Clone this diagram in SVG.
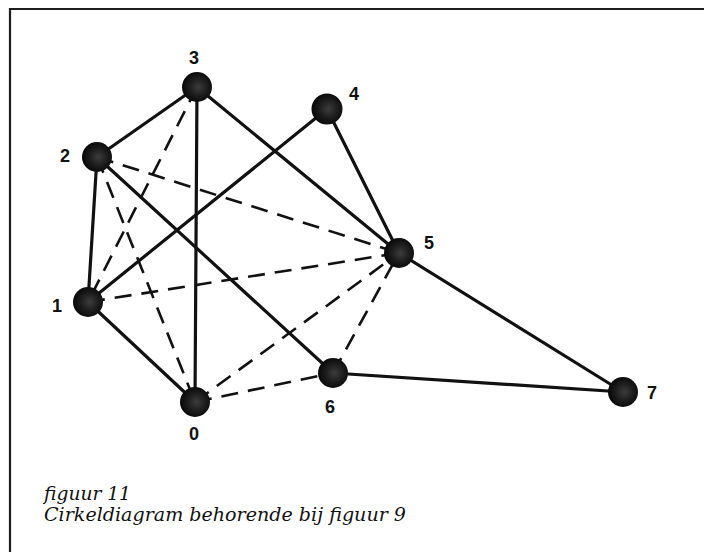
<svg xmlns="http://www.w3.org/2000/svg" width="704" height="552" viewBox="0 0 704 552">
<style>
.frame{stroke:#1e1e1e;stroke-width:2.2;fill:none}
.solid{stroke:#111;stroke-width:3.2;fill:none;stroke-linecap:round}
.dash{stroke:#111;stroke-width:2.6;fill:none;stroke-dasharray:17 10}
.node{fill:url(#g)}
.lbl{font-family:"Liberation Sans",Arial,sans-serif;font-weight:bold;font-size:18px;fill:#111;text-anchor:middle}
.cap{font-family:"DejaVu Serif","Liberation Serif",serif;font-style:italic;font-size:18px;fill:#111}
</style>
<defs>
<radialGradient id="g" cx="0.55" cy="0.5" r="0.55">
<stop offset="0" stop-color="#3c3c3c"/>
<stop offset="0.55" stop-color="#1c1c1c"/>
<stop offset="1" stop-color="#070707"/>
</radialGradient>
</defs>
<rect width="704" height="552" fill="#fff"/>
<path class="frame" d="M10,552 V9 H704"/>
<g id="connectors">
<line class="solid" x1="197" y1="87" x2="97" y2="157"/>
<line class="solid" x1="197" y1="87" x2="195" y2="402"/>
<line class="solid" x1="197" y1="87" x2="399" y2="253"/>
<line class="solid" x1="327" y1="109" x2="88" y2="302"/>
<line class="solid" x1="327" y1="109" x2="399" y2="253"/>
<line class="solid" x1="97" y1="157" x2="88" y2="302"/>
<line class="solid" x1="97" y1="157" x2="333" y2="373"/>
<line class="solid" x1="88" y1="302" x2="195" y2="402"/>
<line class="solid" x1="399" y1="253" x2="623" y2="392"/>
<line class="solid" x1="333" y1="373" x2="623" y2="392"/>
<line class="dash" x1="197" y1="87" x2="88" y2="302"/>
<line class="dash" x1="97" y1="157" x2="195" y2="402"/>
<line class="dash" x1="97" y1="157" x2="399" y2="253"/>
<line class="dash" x1="88" y1="302" x2="399" y2="253"/>
<line class="dash" x1="195" y1="402" x2="399" y2="253"/>
<line class="dash" x1="333" y1="373" x2="399" y2="253"/>
<line class="dash" x1="195" y1="402" x2="333" y2="373"/>
</g>
<g id="node0"><circle class="node" cx="195" cy="402" r="15"/><text class="lbl" x="194" y="440">0</text></g>
<g id="node1"><circle class="node" cx="88" cy="302" r="15"/><text class="lbl" x="57" y="312">1</text></g>
<g id="node2"><circle class="node" cx="97" cy="157" r="15"/><text class="lbl" x="65" y="162">2</text></g>
<g id="node3"><circle class="node" cx="197" cy="87" r="15"/><text class="lbl" x="194" y="64">3</text></g>
<g id="node4"><circle class="node" cx="327" cy="109" r="15.5"/><text class="lbl" x="354" y="100">4</text></g>
<g id="node5"><circle class="node" cx="399" cy="253" r="15"/><text class="lbl" x="429" y="249">5</text></g>
<g id="node6"><circle class="node" cx="333" cy="373" r="15"/><text class="lbl" x="330" y="413">6</text></g>
<g id="node7"><circle class="node" cx="623" cy="392" r="15"/><text class="lbl" x="652" y="399">7</text></g>
<text class="cap" x="44" y="500" textLength="87" lengthAdjust="spacingAndGlyphs">figuur 11</text>
<text class="cap" x="44" y="521" textLength="362" lengthAdjust="spacingAndGlyphs">Cirkeldiagram behorende bij figuur 9</text>
</svg>
